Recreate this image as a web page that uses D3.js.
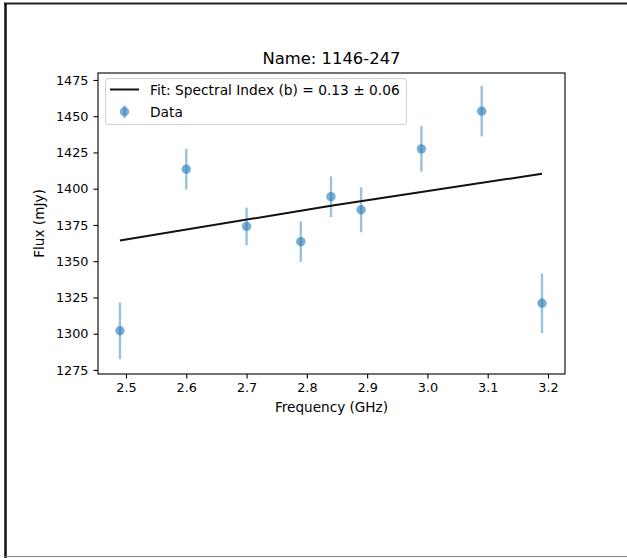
<!DOCTYPE html>
<html><head><meta charset="utf-8">
<script src="https://cdn.jsdelivr.net/npm/d3@7"></script>
<style>body{margin:0;background:#fff}svg{display:block}text{font-family:"DejaVu Sans",sans-serif;fill:#000}</style>
</head><body>
<svg id="c" width="627" height="558"></svg>
<script>
const freqs = [2.49, 2.60, 2.70, 2.79, 2.84, 2.89, 2.99, 3.09, 3.19];
const flux = [1302, 1413.5, 1374, 1363.5, 1394.5, 1385.5, 1427.5, 1453.5, 1321];
const fluxErr = [19.5, 14, 13, 14, 14, 15.5, 15.7, 17.5, 20.5];
const fitFreqs = [2.49, 2.84, 3.19];
const fitFlux = [1364.2, 1388.3, 1410.3];
const xTicks = [2.5, 2.6, 2.7, 2.8, 2.9, 3.0, 3.1, 3.2];
const yTicks = [1275, 1300, 1325, 1350, 1375, 1400, 1425, 1450, 1475];
const title = "Name: 1146-247";
const xLabel = "Frequency (GHz)";
const yLabel = "Flux (mJy)";
const fitLabel = "Fit: Spectral Index (b) = 0.13 \u00b1 0.06";
const dataLabel = "Data";

const svg = d3.select("#c");
const L = 98, R = 565, T = 73, B = 374;
const blue = "#1f77b4";

// page frame
svg.append("line").attr("x1",4).attr("x2",627).attr("y1",3.5).attr("y2",3.5).attr("stroke","#222").attr("stroke-width",2);
svg.append("line").attr("x1",5.5).attr("x2",5.5).attr("y1",3).attr("y2",558).attr("stroke","#111").attr("stroke-width",2.5);
svg.append("line").attr("x1",5).attr("x2",627).attr("y1",556.5).attr("y2",556.5).attr("stroke","#888").attr("stroke-width",1);

const x = d3.scaleLinear().domain([2.4536, 3.2282]).range([L, R]);
const y = d3.scaleLinear().domain([1272.2, 1479.8]).range([B, T]);

// error bars
const g = svg.append("g");
g.selectAll("line.eb").data(freqs).join("line").attr("class","eb")
  .attr("x1",(d)=>x(d)).attr("x2",(d)=>x(d))
  .attr("y1",(d,i)=>y(flux[i]-fluxErr[i])).attr("y2",(d,i)=>y(flux[i]+fluxErr[i]))
  .attr("stroke",blue).attr("stroke-opacity",0.45).attr("stroke-width",2.4);
g.selectAll("circle").data(freqs).join("circle")
  .attr("cx",(d)=>x(d)).attr("cy",(d,i)=>y(flux[i])).attr("r",4.7)
  .attr("fill",blue).attr("fill-opacity",0.6);

// fit line
const fitData = fitFreqs.map((f,i)=>[f, fitFlux[i]]);
svg.append("path").datum(fitData)
  .attr("d", d3.line().x(d=>x(d[0])).y(d=>y(d[1])))
  .attr("fill","none").attr("stroke","#111").attr("stroke-width",2);

// axes
const xa = svg.append("g").attr("transform",`translate(0,${B})`)
  .call(d3.axisBottom(x).tickValues(xTicks).tickFormat(d3.format(".1f")).tickSize(4.5).tickPadding(4));
const ya = svg.append("g").attr("transform",`translate(${L},0)`)
  .call(d3.axisLeft(y).tickValues(yTicks).tickFormat(d3.format("d")).tickSize(4.5).tickPadding(5));
[xa, ya].forEach(a=>{
  a.select(".domain").remove();
  a.selectAll("line").attr("stroke","#000").attr("stroke-width",1.1);
  a.selectAll("text").attr("font-size",12.8).attr("font-family","DejaVu Sans").attr("fill","#000");
});
// spines
svg.append("rect").attr("x",L).attr("y",T).attr("width",R-L).attr("height",B-T)
  .attr("fill","none").attr("stroke","#000").attr("stroke-width",1.1);

// titles
svg.append("text").attr("x",(L+R)/2).attr("y",64).attr("text-anchor","middle").attr("font-size",16.4).text(title);
svg.append("text").attr("x",(L+R)/2).attr("y",412).attr("text-anchor","middle").attr("font-size",13.6).text(xLabel);
svg.append("text").attr("transform",`translate(44,${(T+B)/2}) rotate(-90)`).attr("text-anchor","middle").attr("font-size",13.6).text(yLabel);

// legend
const lg = svg.append("g");
lg.append("rect").attr("x",105.5).attr("y",78.5).attr("width",301).attr("height",46).attr("rx",2.5)
  .attr("fill","#fff").attr("fill-opacity",0.8).attr("stroke","#d0d0d0").attr("stroke-width",1);
lg.append("line").attr("x1",110).attr("x2",139).attr("y1",89.5).attr("y2",89.5).attr("stroke","#111").attr("stroke-width",2);
lg.append("text").attr("x",150).attr("y",94.5).attr("font-size",13.75).text(fitLabel);
lg.append("line").attr("x1",124.5).attr("x2",124.5).attr("y1",105.5).attr("y2",118).attr("stroke",blue).attr("stroke-opacity",0.45).attr("stroke-width",2.4);
lg.append("circle").attr("cx",124.5).attr("cy",111.7).attr("r",4.7).attr("fill",blue).attr("fill-opacity",0.6);
lg.append("text").attr("x",150).attr("y",116.5).attr("font-size",13.75).text(dataLabel);
</script>
</body></html>
